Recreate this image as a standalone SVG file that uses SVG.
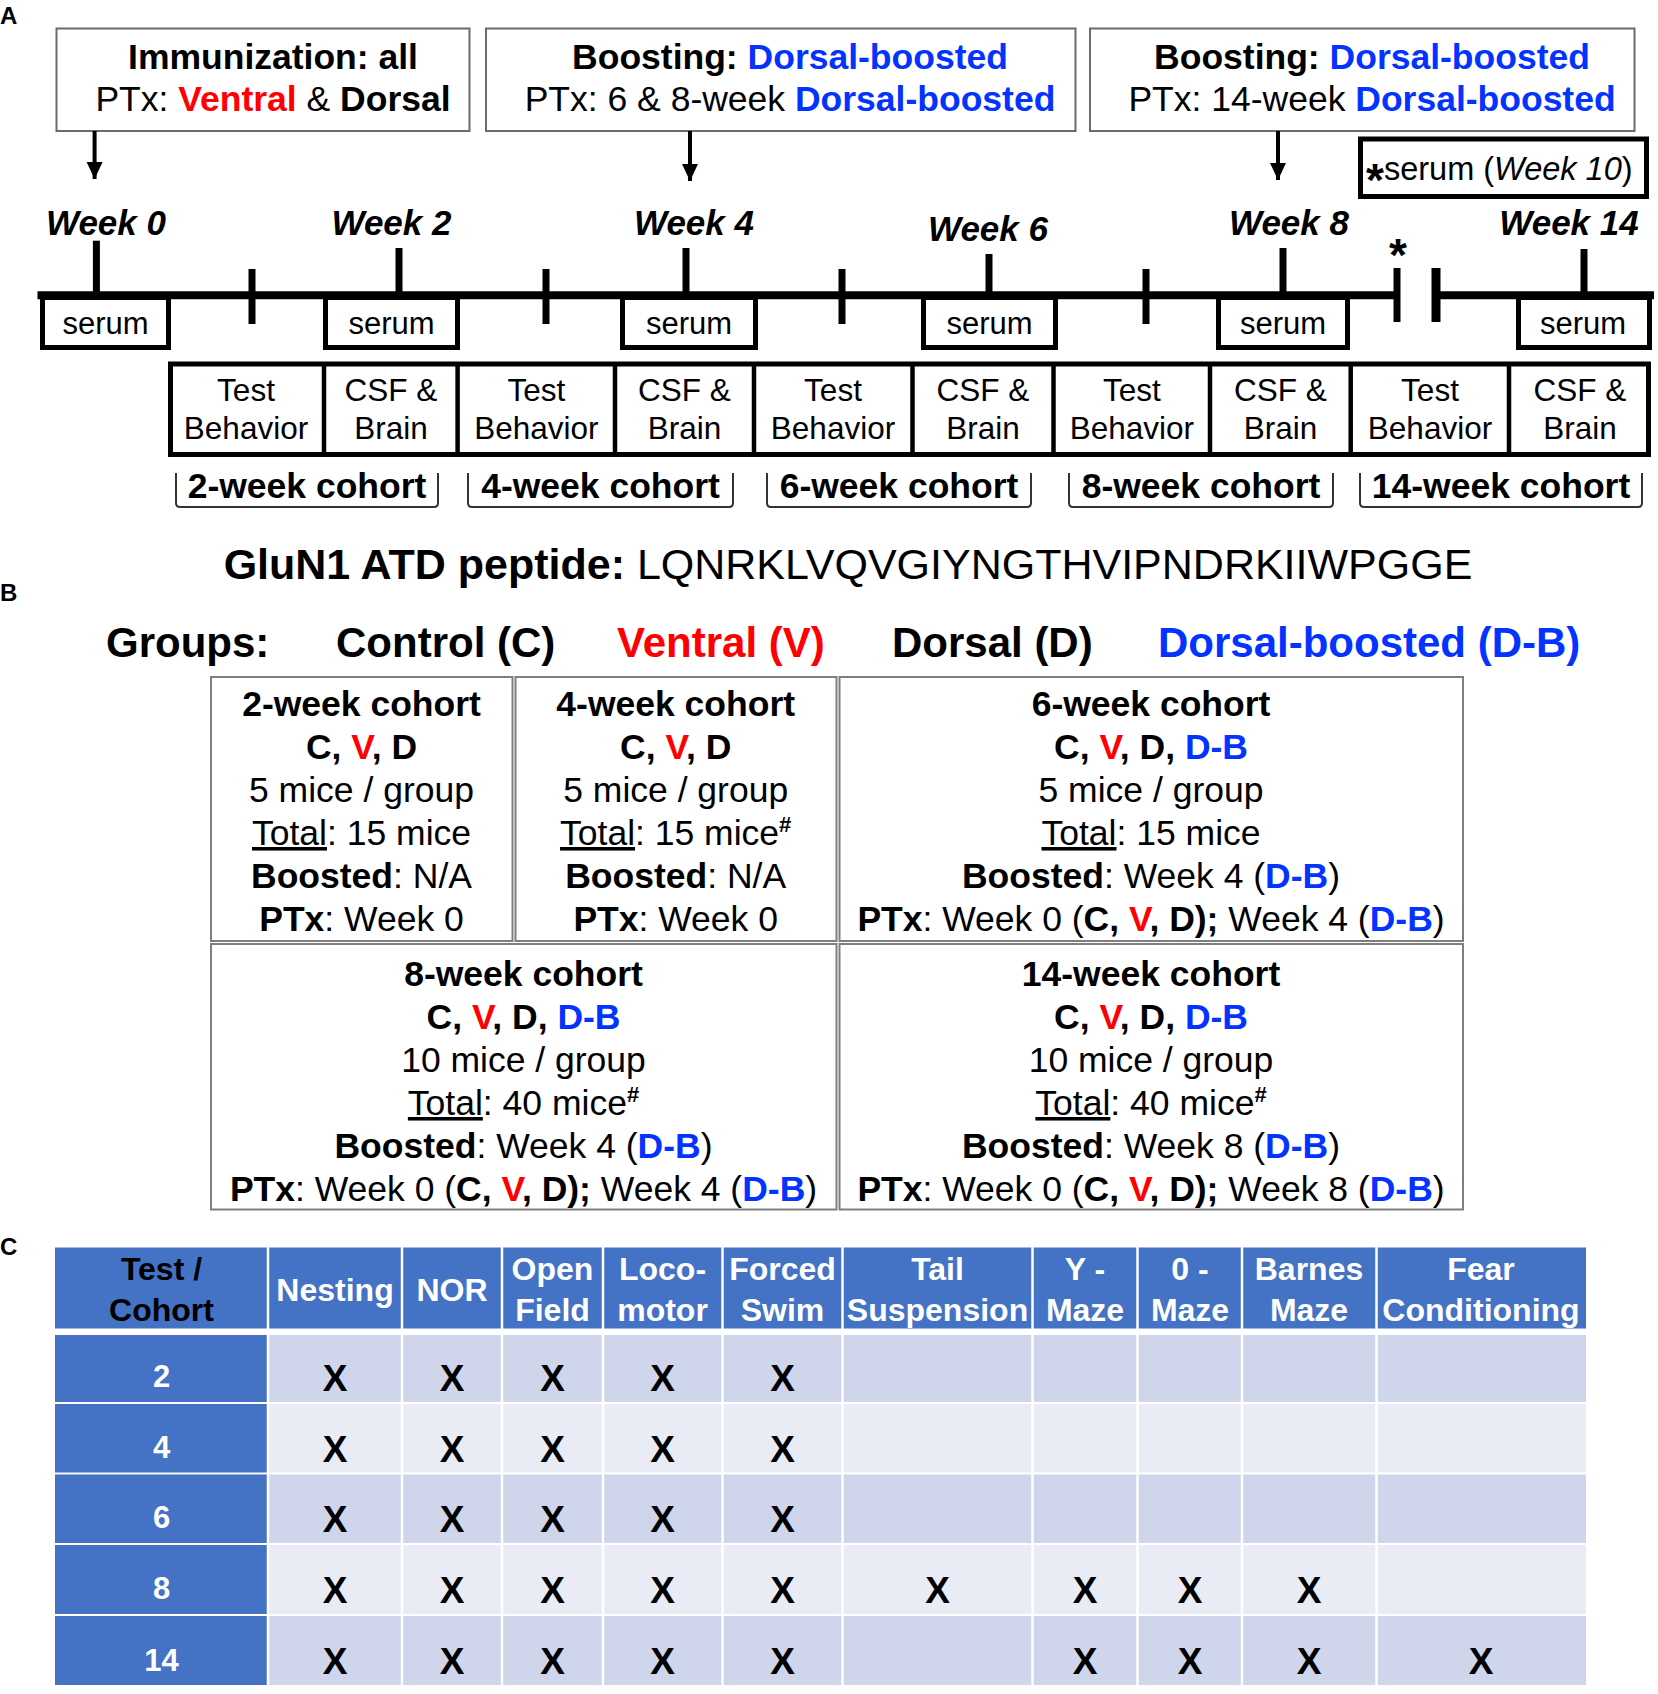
<svg xmlns="http://www.w3.org/2000/svg" width="1658" height="1694" viewBox="0 0 1658 1694">
<style>
text{font-family:"Liberation Sans",Arial,sans-serif;fill:#000}
.b{font-weight:bold}
.i{font-style:italic}
.red{fill:#FF0000}
.blue{fill:#0433FF}
.hdr{font-size:35.5px}
.wk{font-size:35px;font-weight:bold;font-style:italic;text-anchor:middle}
.ser{font-size:31px;text-anchor:middle}
.tc{font-size:31.5px;text-anchor:middle}
.coh{font-size:35.5px;font-weight:bold;text-anchor:middle}
.cell{font-size:35.5px;text-anchor:middle}
.tbox{fill:#fff;stroke:#6b6b6b;stroke-width:2}
.thick{fill:#fff;stroke:#000;stroke-width:5}
.gbox{fill:#fff;stroke:#7f7f7f;stroke-width:2}
.tl{stroke:#000;fill:none}
.brk{fill:none;stroke:#333;stroke-width:2}
.th{font-size:32px;font-weight:bold;text-anchor:middle;fill:#fff}
.thk{font-size:32px;font-weight:bold;text-anchor:middle;fill:#000}
.rl{font-size:31px;font-weight:bold;text-anchor:middle;fill:#fff}
.x{font-size:37px;font-weight:bold;text-anchor:middle}
.lab{font-size:24px;font-weight:bold}
.u{text-decoration:underline}
.arr{stroke:#000;stroke-width:4;marker-end:url(#ah)}
</style>
<defs>
<marker id="ah" markerWidth="18" markerHeight="18" refX="17" refY="8" orient="auto" markerUnits="userSpaceOnUse">
<path d="M0,0 L17,8 L0,16 z" fill="#000"/>
</marker>
</defs>
<rect width="1658" height="1694" fill="#fff"/>

<!-- Panel labels -->
<text class="lab" x="0" y="24">A</text>
<text class="lab" x="0" y="601">B</text>
<text class="lab" x="0" y="1255">C</text>

<!-- Top boxes -->
<g id="box-immunization">
<rect class="tbox" x="56.5" y="28.5" width="413" height="102.5"/>
<text class="hdr b" x="273" y="69" text-anchor="middle">Immunization: all</text>
<text class="hdr" x="273" y="111" text-anchor="middle">PTx: <tspan class="b red">Ventral</tspan> &amp; <tspan class="b">Dorsal</tspan></text>
</g>
<g id="box-boost1">
<rect class="tbox" x="486" y="28.5" width="589.5" height="102.5"/>
<text class="hdr b" x="790" y="69" text-anchor="middle">Boosting: <tspan class="blue">Dorsal-boosted</tspan></text>
<text class="hdr" x="790" y="111" text-anchor="middle">PTx: 6 &amp; 8-week <tspan class="b blue">Dorsal-boosted</tspan></text>
</g>
<g id="box-boost2">
<rect class="tbox" x="1090" y="28.5" width="544.5" height="102.5"/>
<text class="hdr b" x="1372" y="69" text-anchor="middle">Boosting: <tspan class="blue">Dorsal-boosted</tspan></text>
<text class="hdr" x="1372" y="111" text-anchor="middle">PTx: 14-week <tspan class="b blue">Dorsal-boosted</tspan></text>
</g>
<g id="box-week10">
<rect class="thick" x="1360.5" y="139" width="286" height="57.5"/>
<text x="1366" y="180" font-size="32.5"><tspan class="b" font-size="46" dy="16">*</tspan><tspan dy="-16">serum (</tspan><tspan class="i">Week 10</tspan>)</text>
</g>

<!-- Connectors -->
<g id="connectors">
<line class="arr" x1="94.6" y1="131" x2="94.6" y2="179"/>
<line class="arr" x1="690" y1="131" x2="690" y2="181"/>
<line class="arr" x1="1278" y1="131" x2="1278" y2="180"/>
</g>

<!-- Timeline -->
<g id="timeline">
<line class="tl" x1="37.5" y1="295.3" x2="1397" y2="295.3" stroke-width="8"/>
<line class="tl" x1="1436" y1="295.3" x2="1654" y2="295.3" stroke-width="8"/>
<g stroke="#000" stroke-width="7">
<line x1="96.4" y1="240.7" x2="96.4" y2="295"/>
<line x1="399" y1="248" x2="399" y2="295"/>
<line x1="686" y1="248" x2="686" y2="295"/>
<line x1="989" y1="254" x2="989" y2="295"/>
<line x1="1283" y1="248" x2="1283" y2="295"/>
<line x1="1584" y1="249" x2="1584" y2="295"/>
<line x1="252" y1="269" x2="252" y2="324"/>
<line x1="546" y1="269" x2="546" y2="324"/>
<line x1="842" y1="269" x2="842" y2="324"/>
<line x1="1146" y1="269" x2="1146" y2="324"/>
<line x1="1397" y1="268" x2="1397" y2="322"/>
<line x1="1436" y1="268" x2="1436" y2="322" stroke-width="9"/>
</g>
<text class="b" x="1398" y="271" font-size="46" text-anchor="middle">*</text>
<text class="wk" x="106" y="235">Week 0</text>
<text class="wk" x="391.5" y="235">Week 2</text>
<text class="wk" x="694" y="235">Week 4</text>
<text class="wk" x="988" y="240.7">Week 6</text>
<text class="wk" x="1289" y="235">Week 8</text>
<text class="wk" x="1569" y="235">Week 14</text>
</g>

<!-- Serum boxes -->
<g id="serum-0"><rect class="thick" x="42.5" y="297.5" width="126" height="50"/><text class="ser" x="105.5" y="334">serum</text></g>
<g id="serum-2"><rect class="thick" x="325.5" y="297.5" width="132" height="50"/><text class="ser" x="391.5" y="334">serum</text></g>
<g id="serum-4"><rect class="thick" x="622.5" y="297.5" width="133" height="50"/><text class="ser" x="689" y="334">serum</text></g>
<g id="serum-6"><rect class="thick" x="923.5" y="297.5" width="132" height="50"/><text class="ser" x="989.5" y="334">serum</text></g>
<g id="serum-8"><rect class="thick" x="1218.5" y="297.5" width="129" height="50"/><text class="ser" x="1283" y="334">serum</text></g>
<g id="serum-14"><rect class="thick" x="1518.5" y="297.5" width="131" height="50"/><text class="ser" x="1583" y="334">serum</text></g>

<!-- Test / CSF row -->
<g id="procedures">
<rect class="thick" x="170.5" y="364" width="1478" height="90.5"/>
<g stroke="#000" stroke-width="4.5">
<line x1="324" y1="364" x2="324" y2="454.5"/>
<line x1="457.6" y1="364" x2="457.6" y2="454.5"/>
<line x1="615" y1="364" x2="615" y2="454.5"/>
<line x1="754" y1="364" x2="754" y2="454.5"/>
<line x1="912.5" y1="364" x2="912.5" y2="454.5"/>
<line x1="1053.5" y1="364" x2="1053.5" y2="454.5"/>
<line x1="1210" y1="364" x2="1210" y2="454.5"/>
<line x1="1350.7" y1="364" x2="1350.7" y2="454.5"/>
<line x1="1509" y1="364" x2="1509" y2="454.5"/>
</g>
<text class="tc" x="246" y="401">Test</text><text class="tc" x="246" y="439">Behavior</text>
<text class="tc" x="391" y="401">CSF &amp;</text><text class="tc" x="391" y="439">Brain</text>
<text class="tc" x="536.3" y="401">Test</text><text class="tc" x="536.3" y="439">Behavior</text>
<text class="tc" x="684.5" y="401">CSF &amp;</text><text class="tc" x="684.5" y="439">Brain</text>
<text class="tc" x="833" y="401">Test</text><text class="tc" x="833" y="439">Behavior</text>
<text class="tc" x="983" y="401">CSF &amp;</text><text class="tc" x="983" y="439">Brain</text>
<text class="tc" x="1131.8" y="401">Test</text><text class="tc" x="1131.8" y="439">Behavior</text>
<text class="tc" x="1280.4" y="401">CSF &amp;</text><text class="tc" x="1280.4" y="439">Brain</text>
<text class="tc" x="1430" y="401">Test</text><text class="tc" x="1430" y="439">Behavior</text>
<text class="tc" x="1580" y="401">CSF &amp;</text><text class="tc" x="1580" y="439">Brain</text>
</g>

<!-- Cohort brackets -->
<g id="cohorts">
<path class="brk" d="M176,473 L176,503 Q176,507 180,507 L434,507 Q438,507 438,503 L438,473"/>
<path class="brk" d="M468,473 L468,503 Q468,507 472,507 L729,507 Q733,507 733,503 L733,473"/>
<path class="brk" d="M767,473 L767,503 Q767,507 771,507 L1027,507 Q1031,507 1031,503 L1031,473"/>
<path class="brk" d="M1069,473 L1069,503 Q1069,507 1073,507 L1329,507 Q1333,507 1333,503 L1333,473"/>
<path class="brk" d="M1360,473 L1360,503 Q1360,507 1364,507 L1638,507 Q1642,507 1642,503 L1642,473"/>
<text class="coh" x="307" y="498">2-week cohort</text>
<text class="coh" x="600.5" y="498">4-week cohort</text>
<text class="coh" x="899" y="498">6-week cohort</text>
<text class="coh" x="1201" y="498">8-week cohort</text>
<text class="coh" x="1501" y="498">14-week cohort</text>
</g>

<!-- Peptide and groups -->
<text x="848" y="579" font-size="43" text-anchor="middle"><tspan class="b">GluN1 ATD peptide:</tspan> LQNRKLVQVGIYNGTHVIPNDRKIIWPGGE</text>
<g id="groups">
<text class="b" x="106" y="657" font-size="42">Groups:</text>
<text class="b" x="336" y="657" font-size="42">Control (C)</text>
<text class="b red" x="617" y="657" font-size="42">Ventral (V)</text>
<text class="b" x="892" y="657" font-size="42">Dorsal (D)</text>
<text class="b blue" x="1158" y="657" font-size="42">Dorsal-boosted (D-B)</text>
</g>

<!-- Panel B cells -->
<g id="cohort-2">
<rect class="gbox" x="211" y="677" width="301.5" height="264"/>
<text class="cell b" x="361.5" y="716">2-week cohort</text>
<text class="cell b" x="361.5" y="759">C, <tspan class="red">V</tspan>, D</text>
<text class="cell" x="361.5" y="802">5 mice / group</text>
<text class="cell" x="361.5" y="845"><tspan class="u">Total</tspan>: 15 mice</text>
<text class="cell" x="361.5" y="888"><tspan class="b">Boosted</tspan>: N/A</text>
<text class="cell" x="361.5" y="931"><tspan class="b">PTx</tspan>: Week 0</text>
</g>
<g id="cohort-4">
<rect class="gbox" x="515.5" y="677" width="321" height="264"/>
<text class="cell b" x="675.7" y="716">4-week cohort</text>
<text class="cell b" x="675.7" y="759">C, <tspan class="red">V</tspan>, D</text>
<text class="cell" x="675.7" y="802">5 mice / group</text>
<text class="cell" x="675.7" y="845"><tspan class="u">Total</tspan>: 15 mice<tspan class="b" font-size="22" dy="-13">#</tspan></text>
<text class="cell" x="675.7" y="888"><tspan class="b">Boosted</tspan>: N/A</text>
<text class="cell" x="675.7" y="931"><tspan class="b">PTx</tspan>: Week 0</text>
</g>
<g id="cohort-6">
<rect class="gbox" x="839.5" y="677" width="623.5" height="264"/>
<text class="cell b" x="1151" y="716">6-week cohort</text>
<text class="cell b" x="1151" y="759">C, <tspan class="red">V</tspan>, D, <tspan class="blue">D-B</tspan></text>
<text class="cell" x="1151" y="802">5 mice / group</text>
<text class="cell" x="1151" y="845"><tspan class="u">Total</tspan>: 15 mice</text>
<text class="cell" x="1151" y="888"><tspan class="b">Boosted</tspan>: Week 4 (<tspan class="b blue">D-B</tspan>)</text>
<text class="cell" x="1151" y="931"><tspan class="b">PTx</tspan>: Week 0 (<tspan class="b">C, <tspan class="red">V</tspan>, D);</tspan> Week 4 (<tspan class="b blue">D-B</tspan>)</text>
</g>
<g id="cohort-8">
<rect class="gbox" x="211" y="944" width="625.5" height="265.5"/>
<text class="cell b" x="523.5" y="986">8-week cohort</text>
<text class="cell b" x="523.5" y="1029">C, <tspan class="red">V</tspan>, D, <tspan class="blue">D-B</tspan></text>
<text class="cell" x="523.5" y="1072">10 mice / group</text>
<text class="cell" x="523.5" y="1115"><tspan class="u">Total</tspan>: 40 mice<tspan class="b" font-size="22" dy="-13">#</tspan></text>
<text class="cell" x="523.5" y="1158"><tspan class="b">Boosted</tspan>: Week 4 (<tspan class="b blue">D-B</tspan>)</text>
<text class="cell" x="523.5" y="1201"><tspan class="b">PTx</tspan>: Week 0 (<tspan class="b">C, <tspan class="red">V</tspan>, D);</tspan> Week 4 (<tspan class="b blue">D-B</tspan>)</text>
</g>
<g id="cohort-14">
<rect class="gbox" x="839.5" y="944" width="623.5" height="265.5"/>
<text class="cell b" x="1151" y="986">14-week cohort</text>
<text class="cell b" x="1151" y="1029">C, <tspan class="red">V</tspan>, D, <tspan class="blue">D-B</tspan></text>
<text class="cell" x="1151" y="1072">10 mice / group</text>
<text class="cell" x="1151" y="1115"><tspan class="u">Total</tspan>: 40 mice<tspan class="b" font-size="22" dy="-13">#</tspan></text>
<text class="cell" x="1151" y="1158"><tspan class="b">Boosted</tspan>: Week 8 (<tspan class="b blue">D-B</tspan>)</text>
<text class="cell" x="1151" y="1201"><tspan class="b">PTx</tspan>: Week 0 (<tspan class="b">C, <tspan class="red">V</tspan>, D);</tspan> Week 8 (<tspan class="b blue">D-B</tspan>)</text>
</g>

<!-- Panel C table -->
<g id="table">
<rect x="55" y="1247.5" width="1531" height="81" fill="#4472C4"/>
<rect x="55" y="1335" width="1531" height="67" fill="#CFD5EA"/>
<rect x="55" y="1404" width="1531" height="68.5" fill="#E9EBF5"/>
<rect x="55" y="1474.5" width="1531" height="68.5" fill="#CFD5EA"/>
<rect x="55" y="1545" width="1531" height="69" fill="#E9EBF5"/>
<rect x="55" y="1616" width="1531" height="69" fill="#CFD5EA"/>
<rect x="55" y="1335" width="213" height="67" fill="#4472C4"/>
<rect x="55" y="1404" width="213" height="68.5" fill="#4472C4"/>
<rect x="55" y="1474.5" width="213" height="68.5" fill="#4472C4"/>
<rect x="55" y="1545" width="213" height="69" fill="#4472C4"/>
<rect x="55" y="1616" width="213" height="69" fill="#4472C4"/>
<g stroke="#fff" stroke-width="2.5">
<line x1="268" y1="1247" x2="268" y2="1686"/>
<line x1="402" y1="1247" x2="402" y2="1686"/>
<line x1="502" y1="1247" x2="502" y2="1686"/>
<line x1="603" y1="1247" x2="603" y2="1686"/>
<line x1="722.5" y1="1247" x2="722.5" y2="1686"/>
<line x1="842.5" y1="1247" x2="842.5" y2="1686"/>
<line x1="1032.5" y1="1247" x2="1032.5" y2="1686"/>
<line x1="1137.5" y1="1247" x2="1137.5" y2="1686"/>
<line x1="1242" y1="1247" x2="1242" y2="1686"/>
<line x1="1376.5" y1="1247" x2="1376.5" y2="1686"/>
</g>
<text class="thk" x="161.5" y="1280">Test /</text>
<text class="thk" x="161.5" y="1321">Cohort</text>
<text class="th" x="335" y="1301">Nesting</text>
<text class="th" x="452" y="1301">NOR</text>
<text class="th" x="552.5" y="1280">Open</text><text class="th" x="552.5" y="1321">Field</text>
<text class="th" x="662.5" y="1280">Loco-</text><text class="th" x="662.5" y="1321">motor</text>
<text class="th" x="782.5" y="1280">Forced</text><text class="th" x="782.5" y="1321">Swim</text>
<text class="th" x="937.5" y="1280">Tail</text><text class="th" x="937.5" y="1321">Suspension</text>
<text class="th" x="1085" y="1280">Y -</text><text class="th" x="1085" y="1321">Maze</text>
<text class="th" x="1190" y="1280">0 -</text><text class="th" x="1190" y="1321">Maze</text>
<text class="th" x="1309" y="1280">Barnes</text><text class="th" x="1309" y="1321">Maze</text>
<text class="th" x="1481" y="1280">Fear</text><text class="th" x="1481" y="1321">Conditioning</text>
<text class="rl" x="161.5" y="1386.7">2</text>
<text class="rl" x="161.5" y="1457.5">4</text>
<text class="rl" x="161.5" y="1528">6</text>
<text class="rl" x="161.5" y="1599">8</text>
<text class="rl" x="161.5" y="1670.5">14</text>
<g>
<text class="x" x="335" y="1391">X</text><text class="x" x="452" y="1391">X</text><text class="x" x="552.5" y="1391">X</text><text class="x" x="662.5" y="1391">X</text><text class="x" x="782.5" y="1391">X</text>
<text class="x" x="335" y="1461.7">X</text><text class="x" x="452" y="1461.7">X</text><text class="x" x="552.5" y="1461.7">X</text><text class="x" x="662.5" y="1461.7">X</text><text class="x" x="782.5" y="1461.7">X</text>
<text class="x" x="335" y="1532">X</text><text class="x" x="452" y="1532">X</text><text class="x" x="552.5" y="1532">X</text><text class="x" x="662.5" y="1532">X</text><text class="x" x="782.5" y="1532">X</text>
<text class="x" x="335" y="1602.7">X</text><text class="x" x="452" y="1602.7">X</text><text class="x" x="552.5" y="1602.7">X</text><text class="x" x="662.5" y="1602.7">X</text><text class="x" x="782.5" y="1602.7">X</text><text class="x" x="937.5" y="1602.7">X</text><text class="x" x="1085" y="1602.7">X</text><text class="x" x="1190" y="1602.7">X</text><text class="x" x="1309" y="1602.7">X</text>
<text class="x" x="335" y="1674">X</text><text class="x" x="452" y="1674">X</text><text class="x" x="552.5" y="1674">X</text><text class="x" x="662.5" y="1674">X</text><text class="x" x="782.5" y="1674">X</text><text class="x" x="1085" y="1674">X</text><text class="x" x="1190" y="1674">X</text><text class="x" x="1309" y="1674">X</text><text class="x" x="1481" y="1674">X</text>
</g>
</g>
</svg>
